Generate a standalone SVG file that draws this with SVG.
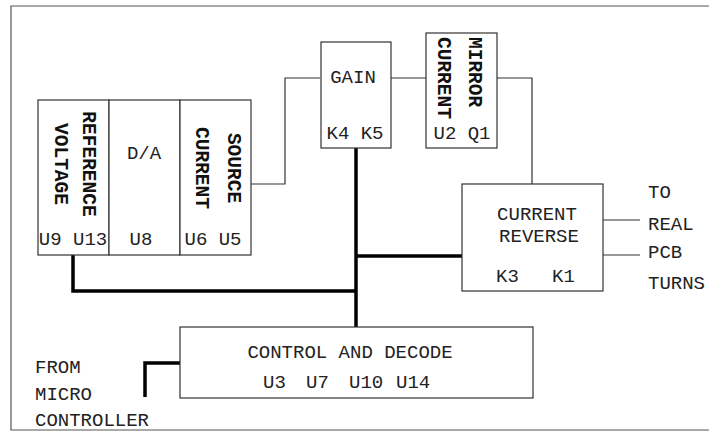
<svg xmlns="http://www.w3.org/2000/svg" width="709" height="431" viewBox="0 0 709 431">
<style>
.box{fill:#fff;stroke:#333;stroke-width:1.2}
.frame{fill:none;stroke:#555;stroke-width:1.2}
.t{font-family:"Liberation Mono","Courier New",monospace;font-size:19px;fill:#222}
.m{text-anchor:middle}
.b{font-weight:bold;fill:#111;font-size:19.5px}
.thin{fill:none;stroke:#333;stroke-width:1.2}
.thick{fill:none;stroke:#000;stroke-width:3.5}
</style>
<rect width="709" height="431" fill="#fff"/>
<path class="frame" d="M715 6H11V430H715"/>
<g id="connectors">
<path class="thin" d="M251 184H285V78H320"/>
<path class="thin" d="M391 78H426"/>
<path class="thin" d="M497 78H532V184"/>
<path class="thin" d="M603 220H640"/>
<path class="thin" d="M603 255H640"/>
<path class="thick" d="M356 148V327"/>
<path class="thick" d="M356 256H462"/>
<path class="thick" d="M73 255V291H356"/>
<path class="thick" d="M180 363H145V397"/>
</g>
<g id="reference-voltage">
<rect class="box" x="38" y="100" width="71" height="155"/>
<text class="t b m" transform="translate(83,164) rotate(90)">REFERENCE</text>
<text class="t b m" transform="translate(55,164) rotate(90)">VOLTAGE</text>
<text class="t m" x="73" y="245">U9 U13</text>
</g>
<g id="da">
<rect class="box" x="109" y="100" width="71" height="155"/>
<text class="t m" x="144" y="159">D/A</text>
<text class="t m" x="141" y="245">U8</text>
</g>
<g id="current-source">
<rect class="box" x="180" y="100" width="71" height="155"/>
<text class="t b m" transform="translate(228,168) rotate(90)">SOURCE</text>
<text class="t b m" transform="translate(196,168) rotate(90)">CURRENT</text>
<text class="t m" x="213" y="245">U6 U5</text>
</g>
<g id="gain">
<rect class="box" x="321" y="42" width="70" height="106"/>
<text class="t m" x="353" y="83">GAIN</text>
<text class="t m" x="355" y="139">K4 K5</text>
</g>
<g id="current-mirror">
<rect class="box" x="426" y="33" width="71" height="115"/>
<text class="t b" transform="translate(469,37) rotate(90)">MIRROR</text>
<text class="t b" transform="translate(438,37) rotate(90)">CURRENT</text>
<text class="t m" x="462" y="139">U2 Q1</text>
</g>
<g id="current-reverse">
<rect class="box" x="462" y="184" width="141" height="107"/>
<text class="t m" x="537" y="220">CURRENT</text>
<text class="t m" x="539" y="242">REVERSE</text>
<text class="t" y="282"><tspan x="496">K3</tspan><tspan x="552">K1</tspan></text>
</g>
<g id="control-decode">
<rect class="box" x="180" y="327" width="353" height="71"/>
<text class="t m" x="350" y="358">CONTROL AND DECODE</text>
<text class="t" y="388"><tspan x="263">U3</tspan><tspan x="306">U7</tspan><tspan x="349">U10</tspan><tspan x="396">U14</tspan></text>
</g>
<g id="labels">
<text class="t" x="648" y="198">TO</text>
<text class="t" x="648" y="230">REAL</text>
<text class="t" x="648" y="258">PCB</text>
<text class="t" x="648" y="289">TURNS</text>
<text class="t" x="35" y="373">FROM</text>
<text class="t" x="35" y="400">MICRO</text>
<text class="t" x="35" y="426">CONTROLLER</text>
</g>
</svg>
